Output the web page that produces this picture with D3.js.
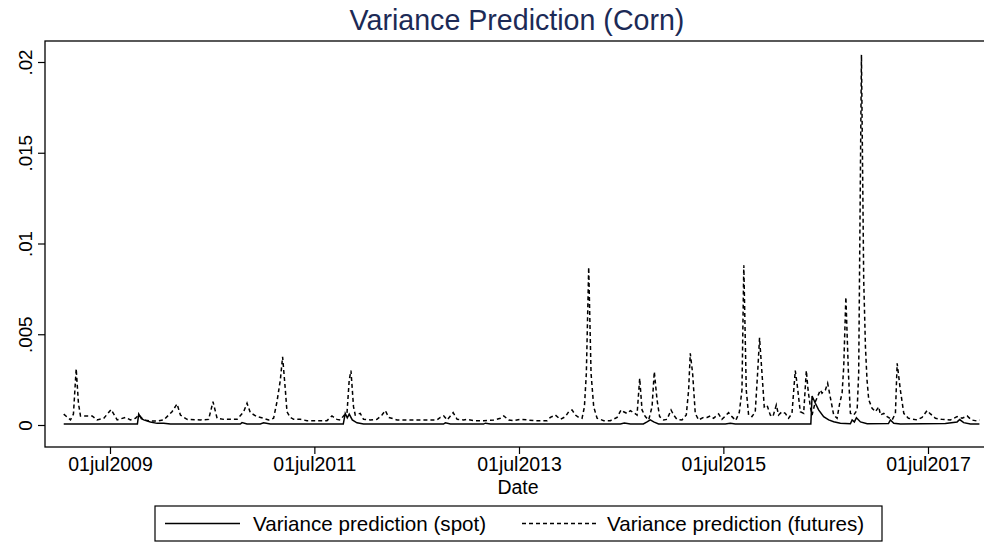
<!DOCTYPE html>
<html>
<head>
<meta charset="utf-8">
<script src="https://cdn.jsdelivr.net/npm/d3@7"></script>
<style>
  html, body { margin: 0; padding: 0; background: #fff; }
  svg { display: block; }
  text { font-family: "Liberation Sans", Arial, Helvetica, sans-serif; }
</style>
</head>
<body>
<svg id="chart" width="984" height="543"></svg>
<script>
// ---- data (time as decimal year, value as variance) ----
const chartTitle = "Variance Prediction (Corn)";
const xAxisTitle = "Date";
const seriesNames = ["Variance prediction (spot)", "Variance prediction (futures)"];

const xTickDates = ["2009-07-01", "2011-07-01", "2013-07-01", "2015-07-01", "2017-07-01"];
const xTickLabels = ["01jul2009", "01jul2011", "01jul2013", "01jul2015", "01jul2017"];
const yTickValues = [0, 0.005, 0.01, 0.015, 0.02];
const yTickLabels = ["0", ".005", ".01", ".015", ".02"];

const spot = [
  [2009.043,0.00005],[2009.764,0.00005],[2009.777,0.0006],[2009.803,0.00035],[2009.826,0.00028],
  [2009.891,0.00017],[2009.957,0.00009],[2010.021,0.0001],[2010.087,0.00005],[2010.771,0.00005],
  [2010.788,0.00013],[2010.837,0.00005],[2010.967,0.00006],[2010.999,0.00012],[2011.065,0.00005],
  [2011.779,0.00005],[2011.798,0.00064],[2011.818,0.0004],[2011.837,0.0006],[2011.867,0.00028],
  [2011.913,0.00012],[2011.977,0.00005],[2012.757,0.00005],[2012.776,0.00012],[2012.825,0.00005],
  [2013.148,0.00005],[2013.168,0.0001],[2013.216,0.00005],[2014.488,0.00005],[2014.527,0.00011],
  [2014.586,0.00006],[2014.713,0.00006],[2014.749,0.00017],[2014.781,0.00028],[2014.814,0.00017],
  [2014.862,0.00006],[2015.515,0.00006],[2015.564,0.0001],[2015.613,0.00006],[2016.351,0.00006],
  [2016.363,0.0016],[2016.395,0.0012],[2016.427,0.00083],[2016.476,0.00046],[2016.525,0.00028],
  [2016.574,0.00018],[2016.639,0.0001],[2016.737,0.00007],[2016.754,0.00028],[2016.776,0.00017],
  [2016.796,0.0004],[2016.835,0.00017],[2016.901,0.00007],[2017.109,0.00008],[2017.128,0.00028],
  [2017.161,0.0001],[2017.226,0.00006],[2017.666,0.00008],[2017.781,0.00017],[2017.806,0.0003],
  [2017.845,0.00013],[2017.911,0.00006],[2017.999,0.00006]
];

const futures = [
  [2009.043,0.0006],[2009.109,0.00028],[2009.138,0.0006],[2009.165,0.0031],[2009.187,0.0012],
  [2009.207,0.0005],[2009.256,0.0005],[2009.321,0.0005],[2009.370,0.00028],[2009.435,0.00037],
  [2009.507,0.00085],[2009.566,0.00028],[2009.647,0.00042],[2009.696,0.00028],[2009.745,0.00037],
  [2009.777,0.00055],[2009.826,0.00028],[2009.891,0.00022],[2009.957,0.00022],[2010.021,0.00028],
  [2010.103,0.00073],[2010.152,0.00116],[2010.185,0.00055],[2010.250,0.00031],[2010.380,0.00028],
  [2010.461,0.00031],[2010.504,0.00128],[2010.544,0.00037],[2010.608,0.00031],[2010.739,0.00031],
  [2010.804,0.00073],[2010.837,0.0012],[2010.869,0.00068],[2010.935,0.00046],[2010.999,0.00037],
  [2011.048,0.00028],[2011.097,0.00037],[2011.130,0.00128],[2011.163,0.00248],[2011.185,0.00376],
  [2011.212,0.00193],[2011.228,0.00073],[2011.260,0.00042],[2011.293,0.00031],[2011.358,0.00031],
  [2011.424,0.00024],[2011.619,0.00024],[2011.668,0.0005],[2011.717,0.00031],[2011.749,0.00028],
  [2011.789,0.00055],[2011.815,0.00064],[2011.837,0.00248],[2011.854,0.003],[2011.879,0.00101],
  [2011.896,0.00055],[2011.945,0.00064],[2011.977,0.00031],[2012.043,0.00028],[2012.108,0.00031],
  [2012.157,0.00055],[2012.190,0.0008],[2012.222,0.00042],[2012.304,0.00028],[2012.434,0.00028],
  [2012.597,0.00028],[2012.695,0.00028],[2012.727,0.00042],[2012.760,0.0005],[2012.793,0.00028],
  [2012.825,0.0005],[2012.852,0.00068],[2012.891,0.00031],[2012.955,0.00028],[2012.989,0.00031],
  [2013.053,0.00024],[2013.151,0.00024],[2013.249,0.00028],[2013.314,0.00037],[2013.347,0.0005],
  [2013.395,0.00028],[2013.444,0.00024],[2013.510,0.00031],[2013.575,0.00028],[2013.640,0.00024],
  [2013.771,0.00024],[2013.803,0.00042],[2013.852,0.00055],[2013.901,0.00031],[2013.950,0.00046],
  [2013.982,0.00073],[2014.015,0.00083],[2014.048,0.00055],[2014.080,0.00042],[2014.113,0.00037],
  [2014.136,0.001],[2014.155,0.00285],[2014.178,0.0087],[2014.201,0.00285],[2014.227,0.001],
  [2014.260,0.00037],[2014.325,0.00024],[2014.390,0.00024],[2014.456,0.00042],[2014.495,0.00083],
  [2014.520,0.00073],[2014.553,0.00064],[2014.586,0.00079],[2014.618,0.00068],[2014.651,0.00055],
  [2014.677,0.00257],[2014.700,0.00083],[2014.732,0.00046],[2014.765,0.00028],[2014.798,0.001],
  [2014.820,0.00294],[2014.847,0.00138],[2014.872,0.00046],[2014.911,0.00028],[2014.945,0.00031],
  [2014.984,0.00083],[2015.009,0.00055],[2015.042,0.00031],[2015.091,0.00028],[2015.133,0.00055],
  [2015.156,0.00193],[2015.172,0.00395],[2015.195,0.00285],[2015.221,0.00064],[2015.254,0.00028],
  [2015.303,0.00042],[2015.336,0.00042],[2015.368,0.0005],[2015.400,0.00037],[2015.449,0.00061],
  [2015.482,0.00031],[2015.547,0.00068],[2015.580,0.00046],[2015.617,0.00025],[2015.652,0.0007],
  [2015.678,0.00193],[2015.696,0.0088],[2015.720,0.00193],[2015.743,0.00055],[2015.776,0.00046],
  [2015.808,0.00073],[2015.831,0.00285],[2015.850,0.0048],[2015.874,0.00285],[2015.896,0.001],
  [2015.923,0.0011],[2015.955,0.00055],[2015.981,0.00046],[2016.014,0.0011],[2016.036,0.00055],
  [2016.069,0.00073],[2016.102,0.00064],[2016.134,0.00037],[2016.167,0.00064],[2016.199,0.003],
  [2016.216,0.0023],[2016.248,0.00073],[2016.281,0.00064],[2016.307,0.003],[2016.324,0.00193],
  [2016.346,0.001],[2016.363,0.00055],[2016.395,0.00128],[2016.417,0.00156],[2016.444,0.00193],
  [2016.460,0.00175],[2016.493,0.00193],[2016.515,0.0023],[2016.542,0.0015],[2016.574,0.00055],
  [2016.607,0.00037],[2016.633,0.0012],[2016.656,0.00175],[2016.672,0.0032],[2016.693,0.00705],
  [2016.718,0.00285],[2016.737,0.00064],[2016.770,0.00055],[2016.803,0.00083],[2016.818,0.00285],
  [2016.845,0.0204],[2016.867,0.008],[2016.884,0.0043],[2016.899,0.0025],[2016.916,0.0014],
  [2016.949,0.00092],[2016.982,0.00073],[2017.014,0.001],[2017.031,0.00055],[2017.063,0.00064],
  [2017.096,0.00046],[2017.145,0.00028],[2017.177,0.00064],[2017.194,0.0034],[2017.226,0.0019],
  [2017.259,0.00064],[2017.304,0.00037],[2017.390,0.00028],[2017.438,0.00042],[2017.487,0.0008],
  [2017.520,0.00061],[2017.569,0.00037],[2017.634,0.00031],[2017.715,0.00028],[2017.781,0.00046],
  [2017.830,0.00037],[2017.879,0.0005],[2017.921,0.00028],[2017.976,0.00022],[2017.999,0.00028]
];

// ---- helpers ----
function yearToDate(t) {
  const y = Math.floor(t);
  const a = Date.UTC(y, 0, 1), b = Date.UTC(y + 1, 0, 1);
  return new Date(a + (t - y) * (b - a));
}
const parseDay = d3.utcParse("%Y-%m-%d");

// ---- layout ----
const plot = { left: 45, top: 41, right: 985, bottom: 447 };
const svg = d3.select("#chart");

const x = d3.scaleUtc()
  .domain([parseDay(xTickDates[0]), parseDay(xTickDates[xTickDates.length - 1])])
  .range([110, 928]);
const y = d3.scaleLinear().domain([0, 0.02]).range([425, 62]);

// frame
svg.append("rect")
  .attr("x", plot.left).attr("y", plot.top)
  .attr("width", plot.right - plot.left).attr("height", plot.bottom - plot.top)
  .attr("fill", "none").attr("stroke", "#000").attr("stroke-width", 1.3);

// title
svg.append("text")
  .attr("x", 517).attr("y", 30)
  .attr("text-anchor", "middle")
  .attr("font-size", 28.6).attr("fill", "#1c2a56")
  .text(chartTitle);

// y axis
const yAxis = d3.axisLeft(y)
  .tickValues(yTickValues)
  .tickSize(7)
  .tickFormat((d, i) => yTickLabels[i]);
const gy = svg.append("g").attr("transform", `translate(${plot.left},0)`).call(yAxis);
gy.select(".domain").remove();
gy.selectAll(".tick line").attr("stroke", "#000").attr("stroke-width", 1.2);
gy.selectAll(".tick text")
  .attr("font-size", 18.8).attr("fill", "#000")
  .attr("font-family", '"Liberation Sans", Arial, sans-serif')
  .attr("text-anchor", "middle")
  .attr("transform", "rotate(-90)")
  .attr("x", 0).attr("y", -13).attr("dy", 0);

// x axis
const xAxis = d3.axisBottom(x)
  .tickValues(xTickDates.map(parseDay))
  .tickSize(7)
  .tickFormat((d, i) => xTickLabels[i]);
const gx = svg.append("g").attr("transform", `translate(0,${plot.bottom})`).call(xAxis);
gx.select(".domain").remove();
gx.selectAll(".tick line").attr("stroke", "#000").attr("stroke-width", 1.2);
gx.selectAll(".tick text")
  .attr("font-size", 19.5).attr("fill", "#000")
  .attr("font-family", '"Liberation Sans", Arial, sans-serif')
  .attr("y", 24).attr("dy", 0);

svg.append("text")
  .attr("x", 518).attr("y", 493.5)
  .attr("text-anchor", "middle").attr("font-size", 19.5)
  .text(xAxisTitle);

// lines
const line = d3.line()
  .x(d => x(yearToDate(d[0])))
  .y(d => y(d[1]));

svg.append("path").datum(futures)
  .attr("d", line).attr("fill", "none")
  .attr("stroke", "#000").attr("stroke-width", 1.5)
  .attr("stroke-dasharray", "4,3");

svg.append("path").datum(spot)
  .attr("d", line).attr("fill", "none")
  .attr("stroke", "#000").attr("stroke-width", 1.5);

// legend
const lg = svg.append("g");
lg.append("rect").attr("x", 155).attr("y", 506).attr("width", 727).attr("height", 35)
  .attr("fill", "#fff").attr("stroke", "#000").attr("stroke-width", 1.2);
lg.append("line").attr("x1", 165).attr("x2", 240).attr("y1", 523.5).attr("y2", 523.5)
  .attr("stroke", "#000").attr("stroke-width", 1.5);
lg.append("text").attr("x", 253).attr("y", 531).attr("font-size", 20.6).text(seriesNames[0]);
lg.append("line").attr("x1", 522).attr("x2", 598).attr("y1", 523.5).attr("y2", 523.5)
  .attr("stroke", "#000").attr("stroke-width", 1.4).attr("stroke-dasharray", "4,3");
lg.append("text").attr("x", 607).attr("y", 531).attr("font-size", 20.6).text(seriesNames[1]);
</script>
</body>
</html>
